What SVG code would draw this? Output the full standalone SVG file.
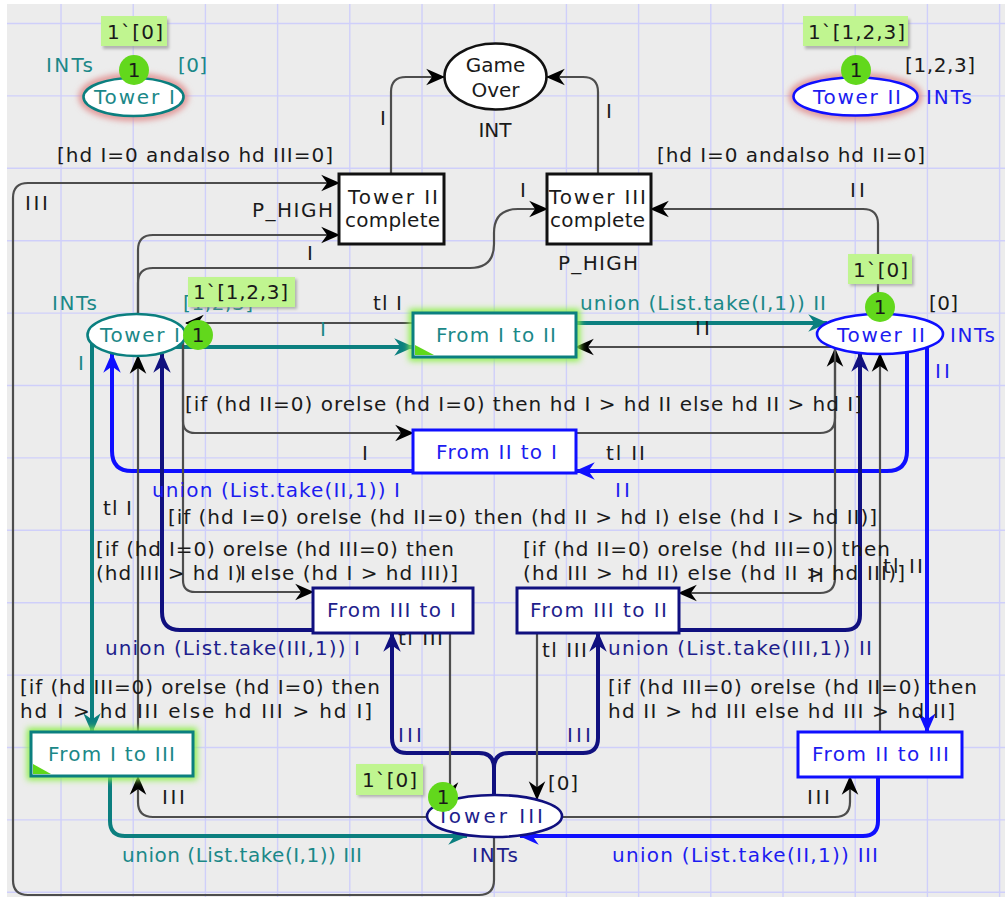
<svg xmlns="http://www.w3.org/2000/svg" width="1005" height="901" viewBox="0 0 1005 901">
<style>
.t{font-family:"DejaVu Sans",Verdana,sans-serif;font-size:20px;fill:#1a1a1a}
.tt{fill:#1b8888}.tb{fill:#1c1cf0}.tn{fill:#1e1e8c}
.m{text-anchor:middle}
.arc{fill:none;stroke:#4d4d4d;stroke-width:2.2}
.teal{fill:none;stroke:#0b7f7f;stroke-width:4}
.blue{fill:none;stroke:#0f0fff;stroke-width:4}
.navy{fill:none;stroke:#10107f;stroke-width:4}
.grid{fill:none;stroke:#cfcffa;stroke-width:1.4}
.place{fill:#fff;stroke-width:2.6}
.trans{fill:#fff;stroke-width:3}
.tok{fill:#62d81c}
.box{fill:#c0f590}
.shadow{fill:#8a8a8a;opacity:.6}
</style>
<defs>
<marker id="ak" markerUnits="userSpaceOnUse" viewBox="0 0 16 16" markerWidth="19" markerHeight="19" refX="15" refY="8" orient="auto"><path d="M0,1 L16,8 L0,15 L5,8 z" fill="#000"/></marker>
<marker id="at" markerUnits="userSpaceOnUse" viewBox="0 0 16 16" markerWidth="20" markerHeight="20" refX="15" refY="8" orient="auto"><path d="M0,1 L16,8 L0,15 L5,8 z" fill="#0b7f7f"/></marker>
<marker id="ab" markerUnits="userSpaceOnUse" viewBox="0 0 16 16" markerWidth="20" markerHeight="20" refX="15" refY="8" orient="auto"><path d="M0,1 L16,8 L0,15 L5,8 z" fill="#0f0fff"/></marker>
<marker id="an" markerUnits="userSpaceOnUse" viewBox="0 0 16 16" markerWidth="20" markerHeight="20" refX="15" refY="8" orient="auto"><path d="M0,1 L16,8 L0,15 L5,8 z" fill="#10107f"/></marker>
<filter id="blur" x="-30%" y="-60%" width="160%" height="220%"><feGaussianBlur stdDeviation="3"/></filter>
<filter id="sblur" x="-20%" y="-40%" width="140%" height="180%"><feGaussianBlur stdDeviation="1.5"/></filter>
</defs>
<rect x="0" y="0" width="1005" height="901" fill="#fff"/>
<rect x="7" y="4" width="998" height="893" fill="#ececec"/>
<path class="grid" d="M61,4V897M133.2,4V897M205.4,4V897M277.6,4V897M349.8,4V897M422,4V897M494.2,4V897M566.4,4V897M638.6,4V897M710.8,4V897M783,4V897M855.2,4V897M927.4,4V897M999.6,4V897M7,23.5H1005M7,95.9H1005M7,168.3H1005M7,240.7H1005M7,313.1H1005M7,385.5H1005M7,457.9H1005M7,530.3H1005M7,602.7H1005M7,675.1H1005M7,747.5H1005M7,819.9H1005M7,892.3H1005"/>

<g id="connectors">
<path class="arc" marker-end="url(#ak)" d="M391,174 V92 Q391,77 406,77 H444"/>
<path class="arc" marker-end="url(#ak)" d="M598,174 V92 Q598,77 583,77 H547"/>
<path class="arc" marker-end="url(#ak)" d="M138,314 V250 Q138,235 153,235 H339"/>
<path class="arc" marker-end="url(#ak)" d="M138,314 V283 Q138,268 153,268 H470 Q494,268 494,244 V233 Q494,209 518,209 H547"/>
<path class="arc" marker-end="url(#ak)" d="M878,314 V224 Q878,209 863,209 H651"/>
<path class="arc" marker-end="url(#ak)" d="M494,837 V880 Q494,895 479,895 H28 Q13,895 13,880 V198 Q13,183 28,183 H339"/>
<path class="teal" marker-end="url(#at)" d="M176,347 H413"/>
<path class="teal" marker-end="url(#at)" d="M576,323 H827"/>
<path class="arc" marker-end="url(#ak)" d="M413,323 H186"/>
<path class="arc" marker-end="url(#ak)" d="M832,347 H576"/>
<path class="arc" marker-end="url(#ak)" d="M183,337 V421 Q183,433 195,433 H413"/>
<path class="blue" marker-end="url(#ab)" d="M907,349 V451 Q907,471 887,471 H576"/>
<path class="blue" marker-end="url(#ab)" d="M413,471 H132 Q112,471 112,451 V354"/>
<path class="arc" marker-end="url(#ak)" d="M576,433 H820 Q835,433 835,418 V349"/>
<path class="navy" marker-end="url(#an)" d="M313,630 H180 Q162,630 162,612 V354"/>
<path class="navy" marker-end="url(#an)" d="M494,795 V768 Q494,753 479,753 H407 Q392,753 392,738 V633"/>
<path class="navy" marker-end="url(#an)" d="M494,768 Q494,753 509,753 H583 Q598,753 598,738 V633"/>
<path class="arc" marker-end="url(#ak)" d="M450,633 V800"/>
<path class="arc" marker-end="url(#ak)" d="M183,337 V580 Q183,592 195,592 H313"/>
<path class="navy" marker-end="url(#an)" d="M679,630 H845 Q860,630 860,615 V353"/>
<path class="arc" marker-end="url(#ak)" d="M537,633 V799"/>
<path class="arc" marker-end="url(#ak)" d="M835,349 V578 Q835,593 820,593 H679"/>
<path class="arc" marker-end="url(#ak)" d="M880,732 V354"/>
<path class="blue" marker-end="url(#ab)" d="M927,347 V732"/>
<path class="blue" marker-end="url(#ab)" d="M878,777 V821 Q878,836 863,836 H520"/>
<path class="arc" marker-end="url(#ak)" d="M562,817 H835 Q850,817 850,802 V777"/>
<path class="arc" marker-end="url(#ak)" d="M427,817 H153 Q138,817 138,802 V777"/>
<path class="arc" marker-end="url(#ak)" d="M138,732 V356"/>
<path class="teal" marker-end="url(#at)" d="M92,344 V732"/>
<path class="teal" marker-end="url(#at)" d="M110,777 V821 Q110,836 125,836 H467"/>
</g>

<g id="arc-labels">
<text class="t" x="380" y="125">I</text>
<text class="t" x="606" y="118">I</text>
<text class="t" x="57" y="162" textLength="276">[hd I=0 andalso hd III=0]</text>
<text class="t" x="657" y="162" textLength="268">[hd I=0 andalso hd II=0]</text>
<text class="t" x="25" y="210" textLength="23">III</text>
<text class="t" x="307" y="260">I</text>
<text class="t" x="520" y="197">I</text>
<text class="t" x="850" y="197" textLength="15">II</text>
<text class="t tt" x="320" y="336">I</text>
<text class="t" x="373" y="310" textLength="29">tl I</text>
<text class="t tt" x="580" y="310" textLength="246">union (List.take(I,1)) II</text>
<text class="t" x="695" y="335" textLength="15">II</text>
<text class="t tt" x="78" y="370">I</text>
<text class="t tb" x="935" y="378" textLength="15">II</text>
<text class="t" x="185" y="411" textLength="677">[if (hd II=0) orelse (hd I=0) then hd I &gt; hd II else hd II &gt; hd I]</text>
<text class="t" x="362" y="460">I</text>
<text class="t" x="606" y="460" textLength="39">tl II</text>
<text class="t tb" x="615" y="497" textLength="15">II</text>
<text class="t tb" x="152" y="497" textLength="248">union (List.take(II,1)) I</text>
<text class="t" x="103" y="515" textLength="29">tl I</text>
<text class="t" x="168" y="524" textLength="709">[if (hd I=0) orelse (hd II=0) then (hd II &gt; hd I) else (hd I &gt; hd II)]</text>
<text class="t" x="96" y="556" textLength="358">[if (hd I=0) orelse (hd III=0) then</text>
<text class="t" x="96" y="580" textLength="362">(hd III &gt; hd I) else (hd I &gt; hd III)]</text>
<text class="t" x="240" y="580">I</text>
<text class="t" x="523" y="556" textLength="367">[if (hd II=0) orelse (hd III=0) then</text>
<text class="t" x="523" y="580" textLength="382">(hd III &gt; hd II) else (hd II &gt; hd III)]</text>
<text class="t" x="809" y="582" textLength="15">II</text>
<text class="t" x="883" y="573" textLength="40">tl II</text>
<text class="t" x="398" y="645" textLength="45">tl III</text>
<text class="t tn" x="105" y="655" textLength="255">union (List.take(III,1)) I</text>
<text class="t" x="542" y="657" textLength="45">tl III</text>
<text class="t tn" x="608" y="655" textLength="264">union (List.take(III,1)) II</text>
<text class="t" x="20" y="694" textLength="360">[if (hd III=0) orelse (hd I=0) then</text>
<text class="t" x="20" y="718" textLength="352">hd I &gt; hd III else hd III &gt; hd I]</text>
<text class="t" x="608" y="694" textLength="369">[if (hd III=0) orelse (hd II=0) then</text>
<text class="t" x="608" y="718" textLength="347">hd II &gt; hd III else hd III &gt; hd II]</text>
<text class="t tn" x="398" y="742" textLength="24">III</text>
<text class="t tn" x="567" y="742" textLength="24">III</text>
<text class="t" x="162" y="804" textLength="23">III</text>
<text class="t" x="807" y="804" textLength="23">III</text>
<text class="t tt" x="122" y="862" textLength="240">union (List.take(I,1)) III</text>
<text class="t tb" x="612" y="862" textLength="266">union (List.take(II,1)) III</text>
</g>

<g id="tower-i-top">
<ellipse cx="133.5" cy="97" rx="51" ry="20" fill="none" stroke="#e08a8a" stroke-width="7" filter="url(#blur)"/>
<ellipse class="place" cx="133.5" cy="97" rx="50" ry="19" stroke="#0b7f7f"/>
<text class="t tt" x="94" y="104" textLength="81">Tower I</text>
<text class="t tt" x="46" y="72" textLength="47">INTs</text>
<text class="t tt" x="178" y="72" textLength="29">[0]</text>
<circle class="tok" cx="134" cy="70" r="15"/>
<text class="t m" x="134" y="77">1</text>
<rect class="shadow" x="103" y="19" width="66" height="30" filter="url(#sblur)"/>
<rect class="box" x="101" y="16" width="66" height="30"/>
<text class="t" x="107" y="39" textLength="56">1`[0]</text>
</g>

<g id="tower-ii-top">
<ellipse cx="855.5" cy="96.5" rx="63" ry="20" fill="none" stroke="#e08a8a" stroke-width="7" filter="url(#blur)"/>
<ellipse class="place" cx="855.5" cy="96.5" rx="62" ry="19" stroke="#0f0fff"/>
<text class="t tb" x="813" y="104" textLength="88">Tower II</text>
<text class="t tb" x="926" y="104" textLength="46">INTs</text>
<text class="t" x="905" y="72" textLength="70">[1,2,3]</text>
<circle class="tok" cx="856" cy="70" r="15"/>
<text class="t m" x="856" y="77">1</text>
<rect class="shadow" x="805" y="19" width="105" height="30" filter="url(#sblur)"/>
<rect class="box" x="803" y="16" width="105" height="30"/>
<text class="t" x="808" y="39" textLength="97">1`[1,2,3]</text>
</g>

<g id="game-over">
<ellipse class="place" cx="495.5" cy="76.5" rx="51" ry="33" stroke="#111" stroke-width="3"/>
<text class="t m" x="495.5" y="72">Game</text>
<text class="t m" x="495.5" y="97">Over</text>
<text class="t m" x="495" y="137">INT</text>
</g>

<g id="tower-ii-complete">
<rect class="trans" x="339" y="174" width="105" height="70" stroke="#111"/>
<text class="t" x="348" y="204" textLength="90">Tower II</text>
<text class="t" x="345" y="227" textLength="95">complete</text>
<text class="t" x="252" y="217" textLength="81">P_HIGH</text>
</g>

<g id="tower-iii-complete">
<rect class="trans" x="547" y="174" width="104" height="70" stroke="#111"/>
<text class="t" x="549" y="204" textLength="97">Tower III</text>
<text class="t" x="550" y="227" textLength="95">complete</text>
<text class="t" x="558" y="270" textLength="80">P_HIGH</text>
</g>

<g id="tower-i">
<ellipse class="place" cx="136.5" cy="335" rx="49" ry="21" stroke="#0b7f7f"/>
<text class="t tt" x="100" y="342" textLength="80">Tower I</text>
<text class="t tt" x="52" y="310" textLength="45">INTs</text>
<text class="t tt" x="183" y="310" textLength="70">[1,2,3]</text>
<circle class="tok" cx="198" cy="335" r="15"/>
<text class="t m" x="198" y="342">1</text>
<rect class="shadow" x="190" y="279" width="107" height="30" filter="url(#sblur)"/>
<rect class="box" x="188" y="277" width="107" height="30"/>
<text class="t" x="193" y="299" textLength="95">1`[1,2,3]</text>
</g>

<g id="tower-ii">
<ellipse class="place" cx="880" cy="334" rx="63" ry="20" stroke="#0f0fff"/>
<text class="t tb" x="837" y="342" textLength="88">Tower II</text>
<text class="t tb" x="950" y="342" textLength="45">INTs</text>
<text class="t" x="929" y="310" textLength="29">[0]</text>
<rect class="shadow" x="850" y="256" width="64" height="30" filter="url(#sblur)"/>
<rect class="box" x="848" y="254" width="64" height="30"/>
<text class="t" x="853" y="277" textLength="55">1`[0]</text>
<circle class="tok" cx="880" cy="307" r="15"/>
<text class="t m" x="880" y="314">1</text>
</g>

<g id="tower-iii">
<ellipse class="place" cx="494.5" cy="816" rx="67.5" ry="21" stroke="#10107f"/>
<text class="t tn" x="437" y="823" textLength="106">Tower III</text>
<text class="t tn" x="472" y="862" textLength="46">INTs</text>
<text class="t" x="548" y="790" textLength="30">[0]</text>
<rect class="shadow" x="358" y="766" width="67" height="31" filter="url(#sblur)"/>
<rect class="box" x="356" y="764" width="67" height="31"/>
<text class="t" x="362" y="787" textLength="55">1`[0]</text>
<circle class="tok" cx="443" cy="797" r="15"/>
<text class="t m" x="443" y="804">1</text>
</g>

<g id="from-i-to-ii">
<rect x="413" y="313" width="163" height="44" fill="none" stroke="#8cf04a" stroke-width="8" filter="url(#blur)"/>
<rect class="trans" x="413" y="313" width="163" height="44" stroke="#0b7f7f" stroke-width="2.6"/>
<polygon points="415,345 415,355 434,355" fill="#5fd81a"/>
<text class="t tt" x="436" y="342" textLength="120">From I to II</text>
</g>

<g id="from-ii-to-i">
<rect class="trans" x="413" y="430" width="163" height="43" stroke="#0f0fff"/>
<text class="t tb" x="436" y="459" textLength="121">From II to I</text>
</g>

<g id="from-iii-to-i">
<rect class="trans" x="313" y="588" width="160" height="45" stroke="#10107f"/>
<text class="t tn" x="327" y="617" textLength="129">From III to I</text>
</g>

<g id="from-iii-to-ii">
<rect class="trans" x="517" y="588" width="162" height="45" stroke="#10107f"/>
<text class="t tn" x="530" y="617" textLength="137">From III to II</text>
</g>

<g id="from-i-to-iii">
<rect x="31" y="732" width="162" height="44" fill="none" stroke="#8cf04a" stroke-width="8" filter="url(#blur)"/>
<rect class="trans" x="31" y="732" width="162" height="44" stroke="#0b7f7f" stroke-width="2.6"/>
<polygon points="33,764 33,774 51,774" fill="#5fd81a"/>
<text class="t tt" x="48" y="761" textLength="127">From I to III</text>
</g>

<g id="from-ii-to-iii">
<rect class="trans" x="798" y="732" width="164" height="45" stroke="#0f0fff"/>
<text class="t tb" x="812" y="761" textLength="137">From II to III</text>
</g>
</svg>
